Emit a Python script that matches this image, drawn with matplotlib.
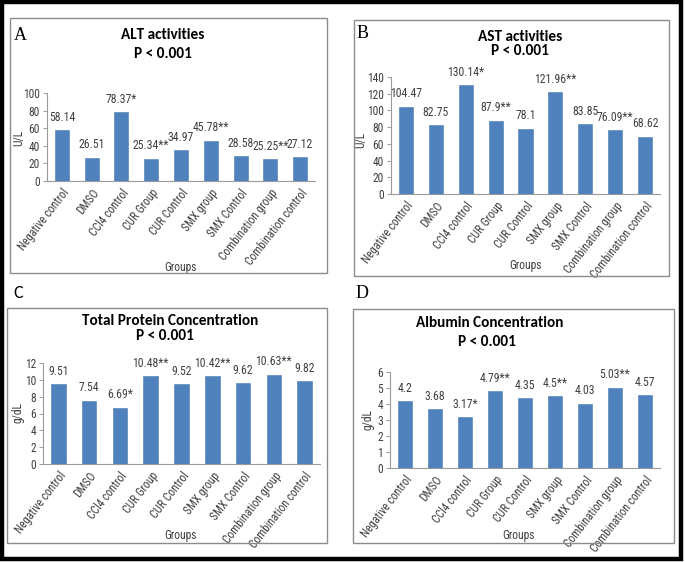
import matplotlib
matplotlib.use("Agg")
import matplotlib.pyplot as plt
from matplotlib.patches import Rectangle
from matplotlib import font_manager as fm

W, H = 685, 562

categories = ["Negative control", "DMSO", "CCl4 control", "CUR Group", "CUR Control",
              "SMX group", "SMX Control", "Combination group", "Combination control"]

alt_values = [58.14, 26.51, 78.37, 25.34, 34.97, 45.78, 28.58, 25.25, 27.12]
alt_labels = ["58.14", "26.51", "78.37*", "25.34**", "34.97", "45.78**", "28.58", "25.25**", "27.12"]

ast_values = [104.47, 82.75, 130.14, 87.9, 78.1, 121.96, 83.85, 76.09, 68.62]
ast_labels = ["104.47", "82.75", "130.14*", "87.9**", "78.1", "121.96**", "83.85", "76.09**", "68.62"]

tp_values = [9.51, 7.54, 6.69, 10.48, 9.52, 10.42, 9.62, 10.63, 9.82]
tp_labels = ["9.51", "7.54", "6.69*", "10.48**", "9.52", "10.42**", "9.62", "10.63**", "9.82"]

alb_values = [4.2, 3.68, 3.17, 4.79, 4.35, 4.5, 4.03, 5.03, 4.57]
alb_labels = ["4.2", "3.68", "3.17*", "4.79**", "4.35", "4.5**", "4.03", "5.03**", "4.57"]

entries = [(f.name, str(f.stretch), f.style, f.weight) for f in fm.fontManager.ttflist]
names = {e[0] for e in entries}

def first_available(cands, default):
    for c in cands:
        if c in names:
            return c
    return default

narrow = first_available(["Liberation Sans Narrow", "Arial Narrow", "Roboto Condensed",
                          "PT Sans Narrow", "Archivo Narrow", "Fira Sans Condensed",
                          "IBM Plex Sans Condensed", "Encode Sans Condensed",
                          "Open Sans Condensed", "Barlow Semi Condensed", "Asap Condensed",
                          "Roboto Flex", "Sofia Sans Condensed", "Saira Condensed"], None)
if narrow is None:
    SMALL = dict(family="Liberation Sans")
    SZ = 6.8
else:
    SMALL = dict(family=narrow)
    SZ = 8.3

title_font = first_available(["Carlito", "Calibri", "Lato"], "DejaVu Sans")

BLUE = "#4F81BD"
GRAY_TXT = "#404040"

fig = plt.figure(figsize=(W / 100, H / 100), dpi=100)

def fx(x):
    return x / W

def fy(y):
    return 1 - y / H

def px_axes(l, t, r, b):
    return fig.add_axes([fx(l), fy(b), (r - l) / W, (b - t) / H])

# outer border
fig.patches.append(Rectangle((fx(2), fy(559)), (681 - 2) / W, (559 - 2) / H,
                             transform=fig.transFigure, fill=False,
                             edgecolor="black", linewidth=3.2, zorder=10))

panels = [
    dict(box=(10, 18, 327, 273), ax=(47, 93, 315, 181), ylim=100, step=20,
         vals=alt_values, labs=alt_labels, unit="U/L", unit_xy=(19, 138),
         letter="A", letter_xy=(20, 36), letter_font="Liberation Serif",
         title="ALT activities", title_xy=(163, 35), p_xy=(163, 54),
         groups_xy=(180, 267)),
    dict(box=(354, 20, 669, 276), ax=(391, 77, 660, 194), ylim=140, step=20,
         vals=ast_values, labs=ast_labels, unit="U/L", unit_xy=(361, 140),
         letter="B", letter_xy=(363, 34), letter_font="Liberation Serif",
         title="AST activities", title_xy=(520, 37), p_xy=(520, 51),
         groups_xy=(525, 266)),
    dict(box=(7, 308, 327, 543), ax=(43, 363, 320, 464), ylim=12, step=2,
         vals=tp_values, labs=tp_labels, unit="g/dL", unit_xy=(18, 413),
         letter="C", letter_xy=(18, 293), letter_font=title_font,
         title="Total Protein Concentration", title_xy=(170, 321), p_xy=(165, 336),
         groups_xy=(180, 536)),
    dict(box=(353, 309, 674, 543), ax=(390, 372, 660, 468), ylim=6, step=1,
         vals=alb_values, labs=alb_labels, unit="g/dL", unit_xy=(368, 420),
         letter="D", letter_xy=(362, 293), letter_font="Liberation Serif",
         title="Albumin Concentration", title_xy=(490, 323), p_xy=(487, 342),
         groups_xy=(518, 536)),
]

for p in panels:
    l, t, r, b = p["box"]
    fig.patches.append(Rectangle((fx(l), fy(b)), (r - l) / W, (b - t) / H,
                                 transform=fig.transFigure, fill=False,
                                 edgecolor="#8c8c8c", linewidth=1.0, zorder=5))
    ax = px_axes(*p["ax"])
    x = list(range(len(categories)))
    ax.bar(x, p["vals"], width=0.47, color=BLUE, edgecolor="#4A7AB4", linewidth=0.4, zorder=3)
    ax.set_xlim(-0.5, len(categories) - 0.5)
    ax.set_ylim(0, p["ylim"])
    ticks = list(range(0, p["ylim"] + 1, p["step"]))
    ax.set_yticks(ticks)
    ax.set_yticklabels([str(v) for v in ticks], fontsize=SZ, color=GRAY_TXT, **SMALL)
    ax.set_xticks(x)
    ax.set_xticklabels(categories, rotation=52, ha="right", rotation_mode="anchor",
                       fontsize=SZ, color=GRAY_TXT, **SMALL)
    ax.tick_params(axis="x", length=0, pad=4)
    ax.tick_params(axis="y", length=3, width=0.6, color="#8c8c8c", pad=2)
    for s in ("top", "right"):
        ax.spines[s].set_visible(False)
    for s in ("left", "bottom"):
        ax.spines[s].set_color("#9a9a9a")
        ax.spines[s].set_linewidth(0.8)
    ax.set_facecolor("none")
    for xi, v, lab in zip(x, p["vals"], p["labs"]):
        ax.annotate(lab, (xi, v), xytext=(0, 4.5), textcoords="offset points",
                    ha="center", va="bottom", fontsize=SZ + 0.2, color=GRAY_TXT, **SMALL)
    ux, uy = p["unit_xy"]
    fig.text(fx(ux), fy(uy), p["unit"], rotation=90, ha="center", va="center",
             fontsize=SZ, color=GRAY_TXT, **SMALL)
    gx, gy = p["groups_xy"]
    fig.text(fx(gx), fy(gy), "Groups", ha="center", va="center",
             fontsize=SZ, color=GRAY_TXT, **SMALL)
    tx, ty = p["title_xy"]
    fig.text(fx(tx), fy(ty), p["title"], ha="center", va="center",
             fontsize=11, fontweight="bold", family=title_font, color="black")
    qx, qy = p["p_xy"]
    fig.text(fx(qx), fy(qy), "P < 0.001", ha="center", va="center",
             fontsize=11, fontweight="bold", family=title_font, color="black")
    lx, ly = p["letter_xy"]
    fig.text(fx(lx), fy(ly), p["letter"], ha="center", va="center",
             fontsize=13, family=p["letter_font"], color="black")

fig.savefig("out.png", dpi=100, facecolor="white")
